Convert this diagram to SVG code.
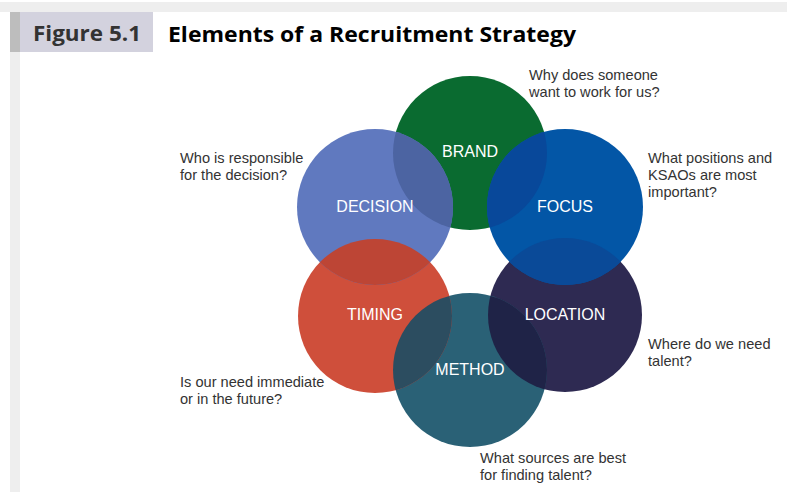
<svg xmlns="http://www.w3.org/2000/svg" width="787" height="494" viewBox="0 0 787 494">
<style>
.q{font-family:"Liberation Sans",Arial,sans-serif;font-size:14.6px;fill:#333}
.l{font-family:"Liberation Sans",Arial,sans-serif;font-size:16px;fill:#fff;text-anchor:middle}
</style>
<defs>
<clipPath id="cB"><circle cx="470" cy="153" r="77"/></clipPath>
<clipPath id="cD"><circle cx="375" cy="207" r="78"/></clipPath>
<clipPath id="cF"><circle cx="565" cy="207" r="78"/></clipPath>
<clipPath id="cT"><circle cx="375" cy="316" r="77"/></clipPath>
<clipPath id="cL"><circle cx="565" cy="315" r="77"/></clipPath>
<clipPath id="cM"><circle cx="470" cy="370" r="77"/></clipPath>
</defs>
<rect width="787" height="494" fill="#fff"/>
<rect x="0" y="2" width="787" height="10" fill="#eeeeee"/>
<rect x="10" y="12" width="10" height="480" fill="#eeeeee"/>
<rect x="10" y="12" width="143" height="40" fill="#d3d2de"/>
<rect x="10" y="12" width="10" height="40" fill="#bdbdbd"/>
<text x="33" y="41" font-family="Open Sans,sans-serif" font-weight="bold" font-size="22" fill="#333" textLength="108" lengthAdjust="spacingAndGlyphs">Figure 5.1</text>
<text x="168" y="42" font-family="Open Sans,sans-serif" font-weight="bold" font-size="22" fill="#000" textLength="408" lengthAdjust="spacingAndGlyphs">Elements of a Recruitment Strategy</text>
<g id="brand"><circle cx="470" cy="153" r="77" fill="#0a6b30"/></g>
<g id="location"><circle cx="565" cy="315" r="77" fill="#2e2a52"/></g>
<g id="method"><circle cx="470" cy="370" r="77" fill="#2a6176"/></g>
<g id="timing"><circle cx="375" cy="316" r="77" fill="#cf4f3b"/></g>
<g id="decision"><circle cx="375" cy="207" r="78" fill="#6079bf"/></g>
<g id="focus"><circle cx="565" cy="207" r="78" fill="#0356a6"/></g>
<g id="overlaps">
<circle cx="375" cy="207" r="78" fill="#4c64a2" clip-path="url(#cB)"/>
<circle cx="565" cy="207" r="78" fill="#08489a" clip-path="url(#cB)"/>
<circle cx="375" cy="316" r="77" fill="#bd4535" clip-path="url(#cD)"/>
<circle cx="565" cy="315" r="77" fill="#0a4a98" clip-path="url(#cF)"/>
<circle cx="470" cy="370" r="77" fill="#2c4d60" clip-path="url(#cT)"/>
<circle cx="470" cy="370" r="77" fill="#1f2347" clip-path="url(#cL)"/>
</g>
<g id="labels">
<text class="l" x="470" y="157">BRAND</text>
<text class="l" x="375" y="212">DECISION</text>
<text class="l" x="565" y="212">FOCUS</text>
<text class="l" x="375" y="320">TIMING</text>
<text class="l" x="565" y="320">LOCATION</text>
<text class="l" x="470" y="375">METHOD</text>
</g>
<g id="questions">
<text class="q" x="529" y="80">Why does someone</text>
<text class="q" x="529" y="97">want to work for us?</text>
<text class="q" x="180" y="163">Who is responsible</text>
<text class="q" x="180" y="180">for the decision?</text>
<text class="q" x="648" y="163">What positions and</text>
<text class="q" x="648" y="180">KSAOs are most</text>
<text class="q" x="648" y="197">important?</text>
<text class="q" x="648" y="349">Where do we need</text>
<text class="q" x="648" y="366">talent?</text>
<text class="q" x="180" y="387">Is our need immediate</text>
<text class="q" x="180" y="404">or in the future?</text>
<text class="q" x="480" y="463">What sources are best</text>
<text class="q" x="480" y="480">for finding talent?</text>
</g>
</svg>
